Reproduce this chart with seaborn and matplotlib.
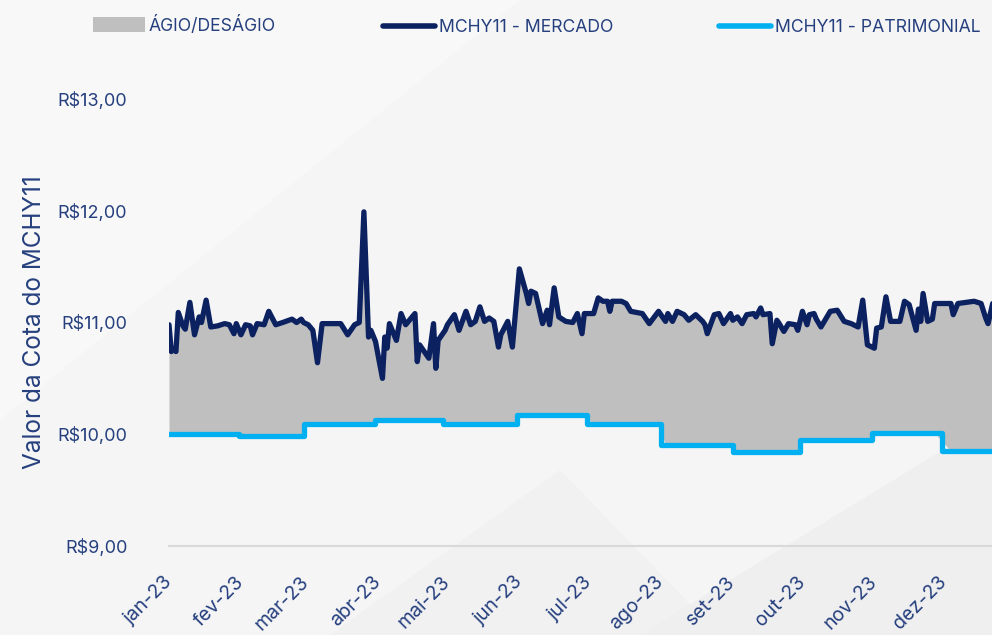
import numpy as np
import pandas as pd
import matplotlib
matplotlib.use("Agg")
import matplotlib.pyplot as plt
from matplotlib.patches import Patch, Polygon
from matplotlib.lines import Line2D
import seaborn as sns

# MCHY11 - cotacao de mercado (leitura aproximada do grafico)
mercado_datas = [
    "2023-01-01", "2023-01-02", "2023-01-03", "2023-01-04", "2023-01-05", "2023-01-07",
    "2023-01-08", "2023-01-10", "2023-01-12", "2023-01-14", "2023-01-15", "2023-01-17",
    "2023-01-19", "2023-01-22", "2023-01-25", "2023-01-27", "2023-01-29", "2023-01-30",
    "2023-02-01", "2023-02-03", "2023-02-05", "2023-02-06", "2023-02-08", "2023-02-11",
    "2023-02-13", "2023-02-16", "2023-02-19", "2023-02-23", "2023-02-25", "2023-02-27",
    "2023-02-28", "2023-03-02", "2023-03-04", "2023-03-06", "2023-03-08", "2023-03-16",
    "2023-03-19", "2023-03-22", "2023-03-24", "2023-03-26", "2023-03-28", "2023-03-29",
    "2023-03-31", "2023-04-03", "2023-04-04", "2023-04-05", "2023-04-06", "2023-04-09",
    "2023-04-11", "2023-04-13", "2023-04-17", "2023-04-18", "2023-04-19", "2023-04-22",
    "2023-04-23", "2023-04-25", "2023-04-26", "2023-04-27", "2023-04-30", "2023-05-01",
    "2023-05-04", "2023-05-06", "2023-05-09", "2023-05-11", "2023-05-13", "2023-05-15",
    "2023-05-17", "2023-05-19", "2023-05-21", "2023-05-23", "2023-05-24", "2023-05-27",
    "2023-05-29", "2023-05-30", "2023-06-01", "2023-06-04", "2023-06-05", "2023-06-06",
    "2023-06-08", "2023-06-11", "2023-06-13", "2023-06-14", "2023-06-16", "2023-06-18",
    "2023-06-21", "2023-06-24", "2023-06-26", "2023-06-28", "2023-06-29", "2023-07-03",
    "2023-07-05", "2023-07-07", "2023-07-09", "2023-07-10", "2023-07-11", "2023-07-15",
    "2023-07-17", "2023-07-19", "2023-07-24", "2023-07-27", "2023-07-31", "2023-08-03",
    "2023-08-04", "2023-08-06", "2023-08-08", "2023-08-11", "2023-08-13", "2023-08-16",
    "2023-08-19", "2023-08-20", "2023-08-21", "2023-08-24", "2023-08-26", "2023-08-28",
    "2023-08-31", "2023-09-01", "2023-09-03", "2023-09-05", "2023-09-07", "2023-09-10",
    "2023-09-11", "2023-09-13", "2023-09-14", "2023-09-17", "2023-09-18", "2023-09-20",
    "2023-09-21", "2023-09-23", "2023-09-25", "2023-09-28", "2023-09-29", "2023-10-01",
    "2023-10-03", "2023-10-04", "2023-10-06", "2023-10-07", "2023-10-09", "2023-10-13",
    "2023-10-16", "2023-10-19", "2023-10-22", "2023-10-25", "2023-10-27", "2023-10-29",
    "2023-11-01", "2023-11-02", "2023-11-04", "2023-11-06", "2023-11-08", "2023-11-12",
    "2023-11-14", "2023-11-16", "2023-11-19", "2023-11-20", "2023-11-21", "2023-11-22",
    "2023-11-24", "2023-11-26", "2023-11-27", "2023-12-04", "2023-12-05", "2023-12-07",
    "2023-12-14", "2023-12-17", "2023-12-19", "2023-12-20", "2023-12-22",
]
mercado_valores = [
    10.98, 10.74, 10.76, 10.74, 11.09, 10.97,
    10.94, 11.18, 10.89, 11.05, 11.00, 11.20,
    10.96, 10.97, 10.99, 10.98, 10.90, 10.99,
    10.89, 10.98, 10.97, 10.89, 10.99, 10.98,
    11.10, 10.98, 11.00, 11.03, 11.00, 11.03,
    11.00, 10.98, 10.93, 10.64, 10.99, 10.99,
    10.89, 10.98, 11.00, 11.99, 10.87, 10.93,
    10.83, 10.50, 10.87, 10.77, 10.99, 10.84,
    11.08, 10.98, 11.08, 10.65, 10.80, 10.71,
    10.68, 10.99, 10.59, 10.84, 10.93, 10.98,
    11.07, 10.93, 11.10, 10.98, 11.01, 11.14,
    11.01, 11.04, 11.01, 10.78, 10.89, 11.01,
    10.78, 11.01, 11.48, 11.26, 11.17, 11.28,
    11.26, 10.99, 11.11, 10.98, 11.31, 11.05,
    11.01, 11.00, 11.08, 10.90, 11.08, 11.08,
    11.22, 11.19, 11.19, 11.10, 11.19, 11.19,
    11.17, 11.10, 11.08, 10.99, 11.10, 11.01,
    11.08, 11.01, 11.10, 11.07, 11.02, 11.07,
    11.01, 10.98, 10.90, 11.07, 11.08, 10.99,
    11.08, 11.02, 11.05, 10.99, 11.07, 11.08,
    11.05, 11.13, 11.07, 11.08, 10.81, 11.02,
    10.99, 10.92, 10.99, 10.98, 10.93, 11.10,
    10.98, 11.07, 11.08, 11.03, 10.96, 11.10,
    11.11, 11.01, 10.99, 10.96, 11.20, 10.80,
    10.77, 10.95, 10.96, 11.23, 11.01, 11.01,
    11.19, 11.16, 10.93, 11.12, 11.01, 11.26,
    11.01, 11.03, 11.17, 11.17, 11.07, 11.17,
    11.19, 11.17, 11.04, 10.99, 11.17,
]

# MCHY11 - valor patrimonial por cota (degraus mensais)
patrimonial_datas = [
    "2023-01-01", "2023-01-31", "2023-02-28", "2023-03-31", "2023-04-29", "2023-05-31",
    "2023-06-30", "2023-08-01", "2023-09-01", "2023-09-30", "2023-10-31", "2023-11-30",
    "2023-12-22",
]
patrimonial_valores = [
    10.00, 9.98, 10.09, 10.13, 10.09, 10.17,
    10.09, 9.90, 9.84, 9.95, 10.01, 9.85,
    9.85,
]

meses = ["jan-23", "fev-23", "mar-23", "abr-23", "mai-23", "jun-23",
         "jul-23", "ago-23", "set-23", "out-23", "nov-23", "dez-23"]
y_ticks = [9, 10, 11, 12, 13]
legenda = ["ÁGIO/DESÁGIO", "MCHY11 - MERCADO", "MCHY11 - PATRIMONIAL"]

NAVY = "#0b2160"
AZUL = "#00b0f0"
CINZA = "#bfbfbf"
TEXTO = "#26407e"

sns.set_theme(style="white")
plt.rcParams["font.family"] = ["Inter", "DejaVu Sans"]

df_m = pd.DataFrame({"data": pd.to_datetime(mercado_datas), "valor": mercado_valores})
df_p = pd.DataFrame({"data": pd.to_datetime(patrimonial_datas), "valor": patrimonial_valores})

# patrimonial no mesmo eixo das datas de mercado (valor vigente em cada data)
pat_em_m = pd.merge_asof(df_m[["data"]], df_p, on="data")["valor"]

W, H = 992, 635
fig = plt.figure(figsize=(W / 100, H / 100), dpi=100)
fig.patch.set_facecolor("#f5f5f6")

# fundo do slide: formas geometricas bem suaves
formas = [
    ([(0, 0), (520, 0), (0, 420)], "#f8f8f8"),
    ([(330, 635), (560, 470), (720, 635)], "#f1f1f2"),
    ([(640, 635), (992, 420), (992, 635)], "#efeff0"),
]
for pts, cor in formas:
    fig.patches.append(Polygon([(x / W, 1 - y / H) for x, y in pts], closed=True,
                               transform=fig.transFigure, facecolor=cor,
                               edgecolor="none", zorder=-10))

ax = fig.add_axes([169 / W, 89 / H, 823 / W, 447 / H])
ax.set_facecolor("none")

ax.fill_between(df_m["data"], pat_em_m, df_m["valor"], color=CINZA, lw=0, zorder=1)
sns.lineplot(data=df_p, x="data", y="valor", ax=ax, color=AZUL, lw=3.8,
             drawstyle="steps-post", zorder=3)
sns.lineplot(data=df_m, x="data", y="valor", ax=ax, color=NAVY, lw=3.8, zorder=4)

ax.set_ylim(9, 13)
ax.set_xlim(pd.Timestamp("2023-01-01"), pd.Timestamp("2023-12-21 17:00"))
ax.set_yticks(y_ticks)
ax.set_yticklabels([f"R${v},00" for v in y_ticks])
ax.set_xticks(pd.date_range("2023-01-01", periods=12, freq="MS"))
ax.set_xticklabels(meses)

ax.tick_params(axis="y", length=0, pad=30, labelsize=13, labelcolor=TEXTO)
ax.tick_params(axis="x", length=6, width=1.5, color="#d9d9d9", pad=18,
               labelsize=14, labelcolor=TEXTO)
for lab in ax.get_xticklabels():
    lab.set_rotation(45)
    lab.set_ha("right")
    lab.set_va("center")
    lab.set_rotation_mode("anchor")

sns.despine(ax=ax, left=True)
ax.spines["bottom"].set_color("#d9d9d9")
ax.spines["bottom"].set_linewidth(1.5)
ax.set_xlabel("")
ax.set_ylabel("Valor da Cota do MCHY11", fontsize=17.5, color=TEXTO)
ax.yaxis.set_label_coords(-0.150, 0.5)

# legenda: cada item na sua posicao, como no slide
handles = [
    Patch(facecolor=CINZA, edgecolor="none"),
    Line2D([0], [0], color=NAVY, lw=4, solid_capstyle="round"),
    Line2D([0], [0], color=AZUL, lw=4, solid_capstyle="round"),
]
for h, lab, x0, y0 in zip(handles, legenda, [93, 383, 719], [0.975, 0.970, 0.970]):
    leg = fig.legend([h], [lab], loc="upper left", bbox_to_anchor=(x0 / W, y0),
                     frameon=False, fontsize=12.7, handlelength=2.95,
                     handleheight=0.9, handletextpad=0.2,
                     borderpad=0, borderaxespad=0)
    for t in leg.get_texts():
        t.set_color(TEXTO)

fig.savefig("out.png", dpi=100, facecolor=fig.get_facecolor())
